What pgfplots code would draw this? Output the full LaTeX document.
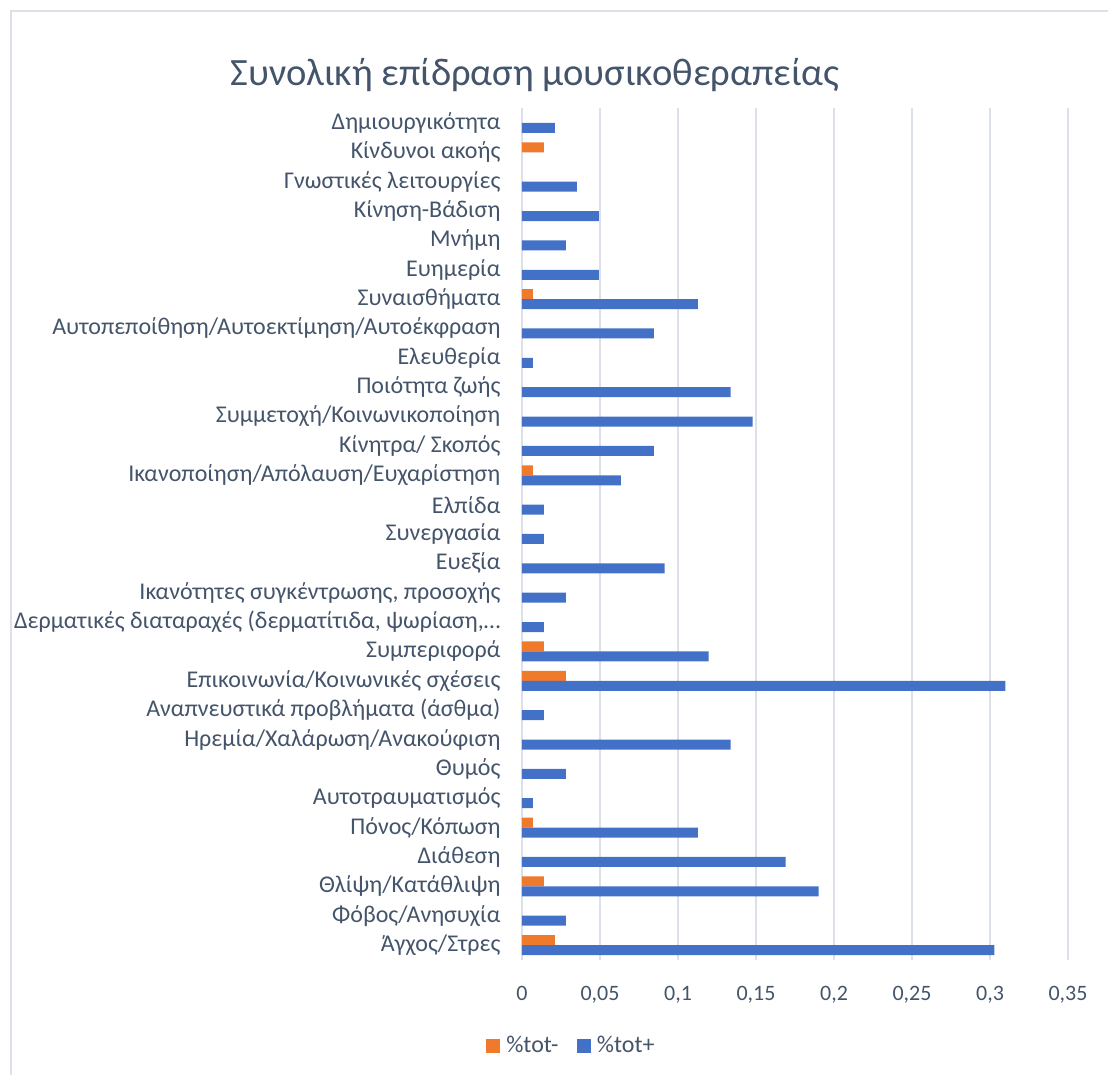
\documentclass[border=0pt]{standalone}
\usepackage{pgfplots}
\pgfplotsset{compat=1.18}
\usepackage{fontspec}
\setmainfont{Carlito}
\definecolor{txt}{HTML}{44546A}
\definecolor{grd}{HTML}{DCE1E9}
\definecolor{bOr}{HTML}{EF7A2C}
\definecolor{bBl}{HTML}{4471C8}
\begin{document}
\begin{tikzpicture}[x=1pt,y=1pt]
\path[use as bounding box] (0,0) rectangle (554,537.5);
\draw[grd, line width=1.2pt] (5.5,0) -- (5.5,532) -- (554,532);
\node[text=txt, font=\fontsize{19.3}{22}\selectfont] at (267.5,500) {Συνολική επίδραση μουσικοθεραπείας};
\begin{axis}[
  at={(261pt,57.65pt)}, anchor=south west,
  scale only axis, width=273pt, height=425.7pt,
  xmin=0, xmax=0.35, ymin=-0.5, ymax=28.5,
  xbar, bar width=5pt,
  xtick={0,0.05,0.1,0.15,0.2,0.25,0.3,0.35},
  ytick={0,...,28},
  yticklabels={Άγχος/Στρες, Φόβος/Ανησυχία, Θλίψη/Κατάθλιψη, Διάθεση, Πόνος/Κόπωση, Αυτοτραυματισμός, Θυμός, Ηρεμία/Χαλάρωση/Ανακούφιση, Αναπνευστικά προβλήματα (άσθμα), Επικοινωνία/Κοινωνικές σχέσεις, Συμπεριφορά, {Δερματικές διαταραχές (δερματίτιδα, ψωρίαση,…}, {Ικανότητες συγκέντρωσης, προσοχής}, Ευεξία, Συνεργασία, Ελπίδα, Ικανοποίηση/Απόλαυση/Ευχαρίστηση, Κίνητρα/ Σκοπός, Συμμετοχή/Κοινωνικοποίηση, Ποιότητα ζωής, Ελευθερία, Αυτοπεποίθηση/Αυτοεκτίμηση/Αυτοέκφραση, Συναισθήματα, Ευημερία, Μνήμη, Κίνηση-Βάδιση, Γνωστικές λειτουργίες, Κίνδυνοι ακοής, Δημιουργικότητα},
  axis line style={draw=none}, major tick style={draw=none},
  xmajorgrids, grid style={grd, line width=1pt},
  tick label style={text=txt},
  yticklabel style={xshift=-3pt, font=\fontsize{12}{14}\selectfont},
  xticklabel style={yshift=-9.5pt, font=\fontsize{11}{13}\selectfont},
  /pgf/number format/.cd, use comma, fixed, precision=2, assume math mode=true,
  /pgfplots/.cd,
  legend style={at={(0.092,-0.1008)}, anchor=center, draw=none, legend columns=2,
    font=\fontsize{12}{14}\selectfont, text=txt,
    /tikz/every even column/.append style={column sep=7pt}},
  legend image code/.code={\fill[#1] (0pt,-3.5pt) rectangle (7pt,3.5pt); \path (8.2pt,0pt);},
]
\addplot[draw=none, fill=bOr, bar shift=2.5pt] coordinates {
 (0.0211,0) (0.0141,2) (0.0070,4) (0.0282,9) (0.0141,10) (0.0070,16) (0.0070,22) (0.0141,27)
};
\addlegendentry{\%tot-}
\addplot[draw=none, fill=bBl, bar shift=-2.5pt] coordinates {
 (0.3028,0) (0.0282,1) (0.1901,2) (0.1690,3) (0.1127,4) (0.0070,5) (0.0282,6) (0.1338,7)
 (0.0141,8) (0.3099,9) (0.1197,10) (0.0141,11) (0.0282,12) (0.0915,13) (0.0141,14) (0.0141,15)
 (0.0634,16) (0.0845,17) (0.1479,18) (0.1338,19) (0.0070,20) (0.0845,21) (0.1127,22) (0.0493,23)
 (0.0282,24) (0.0493,25) (0.0352,26) (0.0211,28)
};
\addlegendentry{\%tot+}
\end{axis}
\end{tikzpicture}
\end{document}
